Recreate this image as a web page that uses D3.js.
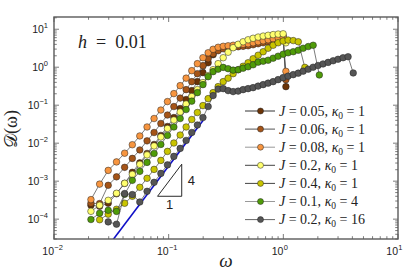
<!DOCTYPE html>
<html>
<head>
<meta charset="utf-8">
<script src="https://cdn.jsdelivr.net/npm/d3@7"></script>
<style>
body { margin: 0; background: #fff; }
text { fill: #222; }
</style>
</head>
<body>
<div id="chart"></div>
<script>
// shared frequency grid
var omega = [0.021, 0.025, 0.0297, 0.0351, 0.0413, 0.0482, 0.056, 0.0648, 0.0746, 0.0855,
    0.0976, 0.111, 0.126, 0.142, 0.159, 0.178, 0.199, 0.221, 0.244, 0.27,
    0.299, 0.33, 0.365, 0.404, 0.446, 0.493, 0.545, 0.603, 0.667, 0.737,
    0.815, 0.901, 0.996, 1.10, 1.22, 1.35, 1.49, 1.65, 1.82, 2.01,
    2.22, 2.46, 2.72, 3.0, 3.32, 3.67];

var d_J005 = [2.32e-4, 2.18e-4, 2.62e-4, 4.65e-4, 8.77e-4, 1.71e-3, 3.03e-3, 5.37e-3, 9.27e-3, 1.60e-2,
    2.75e-2, 4.73e-2, 8.16e-2, 0.141, 0.242, 0.417, 0.719, 1.31, 2.13, 2.88,
    3.26, 3.35, 3.46, 3.56, 3.67, 3.90, 4.15, 4.40, 4.68, 4.97, 5.44, 5.96, 6.73];
var end_J005 = [1.053, 0.308];

var d_J006 = [2.62e-4, 2.57e-4, 7.78e-4, 1.30e-3, 2.31e-3, 3.97e-3, 6.64e-3, 1.15e-2, 1.91e-2, 3.30e-2,
    5.51e-2, 9.21e-2, 0.154, 0.257, 0.417, 0.676, 1.10, 1.67, 2.26, 2.72,
    3.06, 3.26, 3.35, 3.46, 3.56, 3.67, 3.90, 4.15, 4.40, 4.68, 4.97, 5.28, 5.61];
var end_J006 = [1.053, 0.47];

var d_J008 = [3.27e-4, 8.36e-4, 1.92e-3, 3.21e-3, 5.44e-3, 9.10e-3, 1.55e-2, 2.67e-2, 4.46e-2, 7.45e-2,
    0.1245, 0.202, 0.327, 0.515, 0.811, 1.24, 1.78, 2.40, 2.97, 3.35,
    3.56, 3.67, 3.79, 3.90, 4.02, 4.15, 4.40, 4.68, 4.97, 5.28, 5.61, 5.96, 6.14];
var end_J008 = [1.053, 0.777];

var d_J02 = [1.61e-4, 2.32e-4, 3.13e-4, 4.80e-4, 8.77e-4, 1.51e-3, 2.77e-3, 4.91e-3, 8.46e-3, 1.46e-2,
    2.44e-2, 4.07e-2, 6.60e-2, 0.107, 0.169, 0.257, 0.393, 0.600, 0.861, 1.24,
    1.78, 2.48, 3.26, 4.02, 4.68, 5.28, 5.78, 6.22, 6.60, 6.93, 7.23, 7.45, 7.59];
var end_J02 = [1.053, 4.4];

var d_J04 = [null, 9.66e-5, 1.35e-4, 1.82e-4, 2.62e-4, 4.00e-4, 6.89e-4, 1.19e-3, 2.04e-3, 3.52e-3,
    6.07e-3, 1.01e-2, 1.64e-2, 2.67e-2, 4.20e-2, 6.41e-2, 9.77e-2, 0.149, 0.214, 0.308,
    0.417, 0.515, 0.676, 0.861, 1.06, 1.31, 1.67, 2.07, 2.56, 3.16,
    3.79, 4.40, 4.88, 5.18, 5.03, 4.68];
var end_J04 = [1.54, 0.99];

var d_J01k4 = [9.78e-5, 1.43e-4, 1.71e-4, 1.60e-4, 4.50e-4, 1.05e-3, 1.81e-3, 3.12e-3, 5.37e-3, 9.27e-3,
    1.60e-2, 2.67e-2, 4.46e-2, 7.68e-2, 0.128, 0.214, 0.348, 0.564, 0.764, 0.888,
    0.99, 0.915, 0.836, 0.861, 0.944, 1.03, 1.16, 1.36, 1.44, 1.53,
    1.73, 1.95, 2.20, 2.40, 2.56, 2.80, 3.16, 3.50, 3.79];
var end_J01k4 = [2.06, 0.625];

var d_J02k16 = [null, null, 8.46e-5, 7.36e-5, 4.71e-4, 4.43e-4, 2.83e-4, 5.41e-4, 9.31e-4, 1.60e-3,
    2.68e-3, 4.49e-3, 7.28e-3, 1.18e-2, 1.91e-2, 3.01e-2, 4.73e-2, 9.21e-2, 0.179, 0.265,
    0.273, 0.242, 0.228, 0.235, 0.257, 0.273, 0.290, 0.318, 0.348, 0.381,
    0.417, 0.471, 0.531, 0.582, 0.637, 0.697, 0.787, 0.888, 1.00, 1.11,
    1.22, 1.34, 1.48, 1.62, 1.78, 1.89];
var end_J02k16 = [4.07, 0.706];

// omega^4 guide and slope triangle
var guideOmega = [0.03, 0.2], guideD = [2.03e-5, 0.04];
var triOmega = [0.08, 0.13], triD = [4.0e-4, 2.79e-3];

var labelJ = ["0.05", "0.06", "0.08", "0.2", "0.4", "0.1", "0.2"];
var labelK = ["1", "1", "1", "1", "1", "4", "16"];
var fills = ["#6b3306", "#a55417", "#f7953f", "#ffff6e", "#c9c400", "#4f9b08", "#555555"];
var legendLine = ["#333", "#555", "#999", "#444", "#444", "#999", "#666"];

var series = [
    {d: d_J005, end: end_J005}, {d: d_J006, end: end_J006}, {d: d_J008, end: end_J008},
    {d: d_J02, end: end_J02}, {d: d_J04, end: end_J04}, {d: d_J01k4, end: end_J01k4},
    {d: d_J02k16, end: end_J02k16}
];

var SANS = "'Liberation Sans', Arial, sans-serif",
    SERIF = "'Liberation Serif', 'Times New Roman', serif";

var svg = d3.select("#chart").append("svg").attr("width", 415).attr("height", 273),
    margin = {top: 17, right: 17, bottom: 34, left: 54},
    width = 415 - margin.left - margin.right,
    height = 273 - margin.top - margin.bottom;

var x = d3.scaleLog().domain([0.01, 10]).range([0, width]);
var y = d3.scaleLog().domain([3e-5, 21]).range([height, 0]);

var g = svg.append("g").attr("transform", "translate(" + margin.left + "," + margin.top + ")");

g.append("clipPath").attr("id", "clip").append("rect").attr("width", width).attr("height", height);

// ticks
var frameColor = "#5a5a5a";
function minorTicks(lo, hi, d0, d1) {
    var out = [];
    for (var e = d0; e <= d1; e++)
        for (var m = 1; m <= 9; m++) {
            var v = m * Math.pow(10, e);
            if (v >= lo * 0.999 && v <= hi * 1.001) out.push({v: v, major: m === 1});
        }
    return out;
}
var xt = minorTicks(0.01, 10, -2, 1), yt = minorTicks(3e-5, 21, -5, 1);
var tk = g.append("g").attr("stroke", frameColor).attr("stroke-width", 0.8);
xt.forEach(function(t) {
    var L = t.major ? 5 : 2.8, px = x(t.v);
    tk.append("line").attr("x1", px).attr("x2", px).attr("y1", height).attr("y2", height - L);
    tk.append("line").attr("x1", px).attr("x2", px).attr("y1", 0).attr("y2", L);
});
yt.forEach(function(t) {
    var L = t.major ? 5 : 2.8, py = y(t.v);
    tk.append("line").attr("y1", py).attr("y2", py).attr("x1", 0).attr("x2", L);
    tk.append("line").attr("y1", py).attr("y2", py).attr("x1", width).attr("x2", width - L);
});

// tick labels
[-2, -1, 0, 1].forEach(function(e) {
    var px = x(Math.pow(10, e));
    g.append("text").attr("x", px).attr("y", height + 16).attr("text-anchor", "end")
        .attr("font-family", SANS).attr("font-size", 10.5).text("10");
    g.append("text").attr("x", px + 0.3).attr("y", height + 10.5).attr("font-family", SANS)
        .attr("font-size", 7.5).text(e < 0 ? "\u2212" + (-e) : e);
});
[-4, -3, -2, -1, 0, 1].forEach(function(e) {
    var t = g.append("text").attr("x", -6).attr("y", y(Math.pow(10, e)) + 4).attr("text-anchor", "end")
        .attr("font-family", SANS).attr("font-size", 10.5);
    t.append("tspan").text("10");
    t.append("tspan").attr("dy", -5).attr("font-size", 7.5).text(e < 0 ? "\u2212" + (-e) : e);
});

// data
var dg = g.append("g").attr("clip-path", "url(#clip)");

var line = d3.line().x(function(d) { return x(d[0]); }).y(function(d) { return y(d[1]); });

dg.append("path")
    .datum(guideOmega.map(function(w, i) { return [w, guideD[i]]; }))
    .attr("fill", "none").attr("stroke", "#1010c8").attr("stroke-width", 1.6)
    .attr("d", line);

series.forEach(function(s, i) {
    var pts = [];
    s.d.forEach(function(v, k) { if (v !== null) pts.push([omega[k], v]); });
    pts.push(s.end);
    dg.append("path").datum(pts).attr("fill", "none").attr("stroke", "#444")
        .attr("stroke-width", 0.7).attr("d", line);
    dg.selectAll(".m" + i).data(pts).enter().append("circle")
        .attr("cx", function(d) { return x(d[0]); })
        .attr("cy", function(d) { return y(d[1]); })
        .attr("r", 3.3).attr("fill", fills[i]).attr("stroke", "#222").attr("stroke-width", 0.5);
});

// slope triangle
g.append("path")
    .attr("d", "M" + x(triOmega[0]) + "," + y(triD[0]) + "L" + x(triOmega[1]) + "," + y(triD[0]) +
        "L" + x(triOmega[1]) + "," + y(triD[1]) + "Z")
    .attr("fill", "none").attr("stroke", "#111").attr("stroke-width", 0.9);
g.append("text").attr("x", x(triOmega[1]) + 6).attr("y", (y(triD[0]) + y(triD[1])) / 2 + 5)
    .attr("font-family", SANS).attr("font-size", 13).text("4");
g.append("text").attr("x", (x(triOmega[0]) + x(triOmega[1])) / 2).attr("y", y(triD[0]) + 13)
    .attr("text-anchor", "middle").attr("font-family", SANS).attr("font-size", 13).text("1");

// frame
g.append("rect").attr("width", width).attr("height", height).attr("fill", "none")
    .attr("stroke", frameColor).attr("stroke-width", 1.4);

// annotation
var ht = g.append("text").attr("x", 24).attr("y", 31).attr("font-family", SERIF).attr("font-size", 18);
ht.append("tspan").attr("font-style", "italic").text("h");
ht.append("tspan").text("\u2002=\u20020.01");

// legend
var lg = g.append("g").attr("transform", "translate(191,94)");
labelJ.forEach(function(J, i) {
    var yy = i * 18.1;
    lg.append("line").attr("x1", 0).attr("x2", 30).attr("y1", yy).attr("y2", yy)
        .attr("stroke", legendLine[i]).attr("stroke-width", 1);
    lg.append("circle").attr("cx", 15.5).attr("cy", yy).attr("r", 3)
        .attr("fill", fills[i]).attr("stroke", "#222").attr("stroke-width", 0.5);
    var t = lg.append("text").attr("x", 34).attr("y", yy + 4.5)
        .attr("font-family", SERIF).attr("font-size", 14);
    t.append("tspan").attr("font-style", "italic").text("J");
    t.append("tspan").text(" = " + J + ", ");
    t.append("tspan").attr("font-style", "italic").text("\u03ba");
    t.append("tspan").attr("dy", 3).attr("font-size", 9.5).text("0");
    t.append("tspan").attr("dy", -3).text(" = " + labelK[i]);
});

// axis titles
svg.append("text").attr("x", 226).attr("y", 267).attr("text-anchor", "middle")
    .attr("font-family", SERIF).attr("font-size", 19).attr("font-style", "italic").text("\u03c9");
svg.append("text").attr("transform", "translate(17,129) rotate(-90)")
    .attr("text-anchor", "middle").attr("font-family", SERIF).attr("font-size", 18)
    .text("\ud835\udc9f(\u03c9)");
</script>
</body>
</html>
